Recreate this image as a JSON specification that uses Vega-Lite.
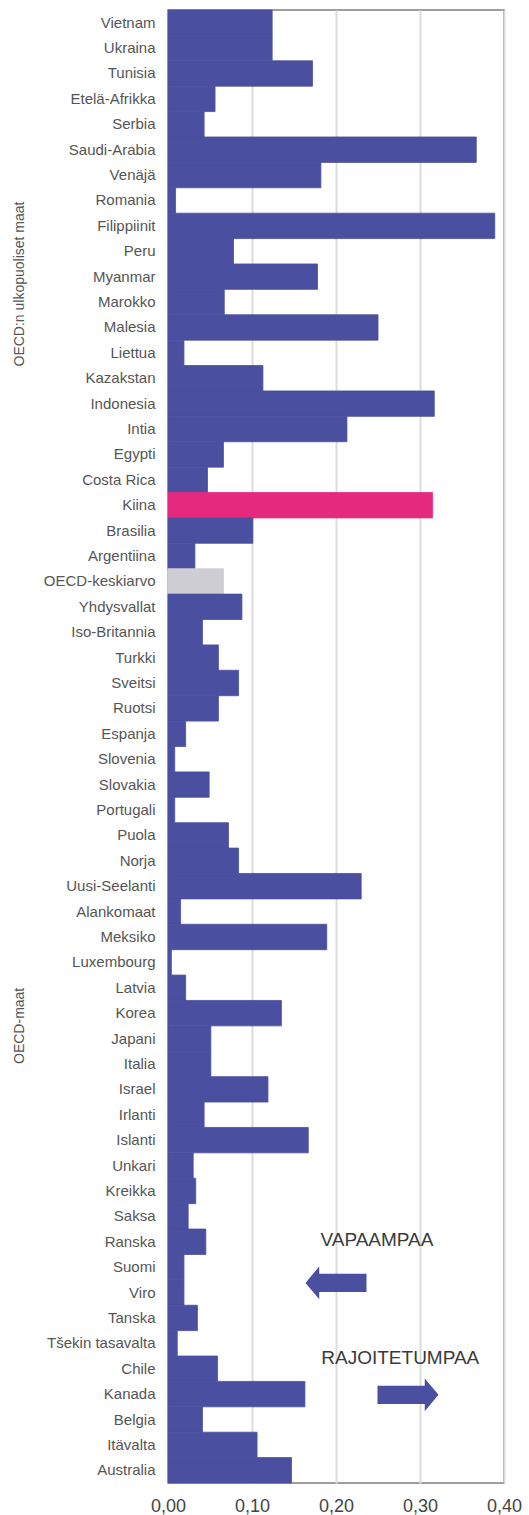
{
  "$schema": "https://vega.github.io/schema/vega-lite/v6.json",
  "width": 336,
  "height": 1473,
  "autosize": {"type": "none"},
  "padding": {"left": 168, "top": 10, "right": 25, "bottom": 32},
  "background": "white",
  "config": {"view": {"stroke": "#7f7f7f", "strokeWidth": 1.5}, "font": "Liberation Sans"},
  "datasets": {
    "maat": [
      {"maa": "Vietnam", "arvo": 0.124, "ryhma": "muu"},
      {"maa": "Ukraina", "arvo": 0.124, "ryhma": "muu"},
      {"maa": "Tunisia", "arvo": 0.172, "ryhma": "muu"},
      {"maa": "Etelä-Afrikka", "arvo": 0.056, "ryhma": "muu"},
      {"maa": "Serbia", "arvo": 0.043, "ryhma": "muu"},
      {"maa": "Saudi-Arabia", "arvo": 0.367, "ryhma": "muu"},
      {"maa": "Venäjä", "arvo": 0.182, "ryhma": "muu"},
      {"maa": "Romania", "arvo": 0.009, "ryhma": "muu"},
      {"maa": "Filippiinit", "arvo": 0.389, "ryhma": "muu"},
      {"maa": "Peru", "arvo": 0.078, "ryhma": "muu"},
      {"maa": "Myanmar", "arvo": 0.178, "ryhma": "muu"},
      {"maa": "Marokko", "arvo": 0.067, "ryhma": "muu"},
      {"maa": "Malesia", "arvo": 0.25, "ryhma": "muu"},
      {"maa": "Liettua", "arvo": 0.019, "ryhma": "muu"},
      {"maa": "Kazakstan", "arvo": 0.113, "ryhma": "muu"},
      {"maa": "Indonesia", "arvo": 0.317, "ryhma": "muu"},
      {"maa": "Intia", "arvo": 0.213, "ryhma": "muu"},
      {"maa": "Egypti", "arvo": 0.066, "ryhma": "muu"},
      {"maa": "Costa Rica", "arvo": 0.047, "ryhma": "muu"},
      {"maa": "Kiina", "arvo": 0.315, "ryhma": "Kiina"},
      {"maa": "Brasilia", "arvo": 0.101, "ryhma": "muu"},
      {"maa": "Argentiina", "arvo": 0.032, "ryhma": "muu"},
      {"maa": "OECD-keskiarvo", "arvo": 0.066, "ryhma": "OECD"},
      {"maa": "Yhdysvallat", "arvo": 0.088, "ryhma": "muu"},
      {"maa": "Iso-Britannia", "arvo": 0.041, "ryhma": "muu"},
      {"maa": "Turkki", "arvo": 0.06, "ryhma": "muu"},
      {"maa": "Sveitsi", "arvo": 0.084, "ryhma": "muu"},
      {"maa": "Ruotsi", "arvo": 0.06, "ryhma": "muu"},
      {"maa": "Espanja", "arvo": 0.021, "ryhma": "muu"},
      {"maa": "Slovenia", "arvo": 0.008, "ryhma": "muu"},
      {"maa": "Slovakia", "arvo": 0.049, "ryhma": "muu"},
      {"maa": "Portugali", "arvo": 0.008, "ryhma": "muu"},
      {"maa": "Puola", "arvo": 0.072, "ryhma": "muu"},
      {"maa": "Norja", "arvo": 0.084, "ryhma": "muu"},
      {"maa": "Uusi-Seelanti", "arvo": 0.23, "ryhma": "muu"},
      {"maa": "Alankomaat", "arvo": 0.015, "ryhma": "muu"},
      {"maa": "Meksiko", "arvo": 0.189, "ryhma": "muu"},
      {"maa": "Luxembourg", "arvo": 0.004, "ryhma": "muu"},
      {"maa": "Latvia", "arvo": 0.021, "ryhma": "muu"},
      {"maa": "Korea", "arvo": 0.135, "ryhma": "muu"},
      {"maa": "Japani", "arvo": 0.051, "ryhma": "muu"},
      {"maa": "Italia", "arvo": 0.051, "ryhma": "muu"},
      {"maa": "Israel", "arvo": 0.119, "ryhma": "muu"},
      {"maa": "Irlanti", "arvo": 0.043, "ryhma": "muu"},
      {"maa": "Islanti", "arvo": 0.167, "ryhma": "muu"},
      {"maa": "Unkari", "arvo": 0.03, "ryhma": "muu"},
      {"maa": "Kreikka", "arvo": 0.033, "ryhma": "muu"},
      {"maa": "Saksa", "arvo": 0.024, "ryhma": "muu"},
      {"maa": "Ranska", "arvo": 0.045, "ryhma": "muu"},
      {"maa": "Suomi", "arvo": 0.019, "ryhma": "muu"},
      {"maa": "Viro", "arvo": 0.019, "ryhma": "muu"},
      {"maa": "Tanska", "arvo": 0.035, "ryhma": "muu"},
      {"maa": "Tšekin tasavalta", "arvo": 0.011, "ryhma": "muu"},
      {"maa": "Chile", "arvo": 0.059, "ryhma": "muu"},
      {"maa": "Kanada", "arvo": 0.163, "ryhma": "muu"},
      {"maa": "Belgia", "arvo": 0.041, "ryhma": "muu"},
      {"maa": "Itävalta", "arvo": 0.106, "ryhma": "muu"},
      {"maa": "Australia", "arvo": 0.147, "ryhma": "muu"}
    ],
    "ryhmat": [
      {"teksti": "OECD:n ulkopuoliset maat", "arvo": -0.176, "rivi": 10.79},
      {"teksti": "OECD-maat", "arvo": -0.176, "rivi": 40.0}
    ],
    "huomiot": [
      {"teksti": "VAPAAMPAA", "arvo": 0.1815, "rivi": 48.43},
      {"teksti": "RAJOITETUMPAA", "arvo": 0.1825, "rivi": 53.08}
    ],
    "nuolet": [
      {"suunta": "vasen", "arvo": 0.2, "rivi": 50.12},
      {"suunta": "oikea", "arvo": 0.2857, "rivi": 54.53}
    ]
  },
  "layer": [
    {
      "data": {"name": "maat"},
      "mark": {"type": "bar", "strokeWidth": 0.8},
      "encoding": {
        "y": {
          "field": "maa", "type": "nominal", "sort": null,
          "scale": {"paddingInner": 0, "paddingOuter": 0},
          "axis": {"title": null, "ticks": false, "domain": false, "labelPadding": 13, "labelFontSize": 15, "labelColor": "#555555", "labelLimit": 200}
        },
        "x": {
          "field": "arvo", "type": "quantitative",
          "scale": {"domain": [0, 0.4], "nice": false},
          "axis": {"title": null, "values": [0, 0.1, 0.2, 0.3, 0.4], "labelExpr": "replace(format(datum.value, '.2f'), '.', ',')", "ticks": false, "domain": false, "labelPadding": 14, "labelFontSize": 18, "labelColor": "#444444", "labelFlush": false, "grid": true, "gridColor": "#dcdcdc", "gridWidth": 2, "zindex": 0}
        },
        "color": {
          "field": "ryhma", "type": "nominal",
          "scale": {"domain": ["muu", "Kiina", "OECD"], "range": ["#4A4F9F", "#E5297F", "#CFCDD4"]},
          "legend": null
        },
        "stroke": {
          "field": "ryhma", "type": "nominal",
          "scale": {"domain": ["muu", "Kiina", "OECD"], "range": ["#4A4F9F", "#E5297F", "#CFCDD4"]},
          "legend": null
        }
      }
    },
    {
      "layer": [
        {
          "data": {"name": "ryhmat"},
          "mark": {"type": "text", "angle": 270, "align": "center", "baseline": "middle", "fontSize": 14, "color": "#555555"},
          "encoding": {
            "x": {"field": "arvo", "type": "quantitative"},
            "y": {"field": "rivi", "type": "quantitative", "scale": {"domain": [0, 58], "reverse": true, "nice": false, "zero": false}, "axis": null},
            "text": {"field": "teksti"}
          }
        },
        {
          "data": {"name": "huomiot"},
          "mark": {"type": "text", "align": "left", "baseline": "middle", "fontSize": 19, "color": "#3a3a3a"},
          "encoding": {
            "x": {"field": "arvo", "type": "quantitative"},
            "y": {"field": "rivi", "type": "quantitative", "scale": {"domain": [0, 58], "reverse": true, "nice": false, "zero": false}, "axis": null},
            "text": {"field": "teksti"}
          }
        },
        {
          "data": {"name": "nuolet"},
          "mark": {"type": "point", "filled": true, "opacity": 1, "size": 3721, "color": "#4A4F9F", "strokeWidth": 0},
          "encoding": {
            "x": {"field": "arvo", "type": "quantitative"},
            "y": {"field": "rivi", "type": "quantitative", "scale": {"domain": [0, 58], "reverse": true, "nice": false, "zero": false}, "axis": null},
            "shape": {
              "field": "suunta", "type": "nominal",
              "scale": {"domain": ["vasen", "oikea"], "range": ["M-1,0L-0.55,-0.54L-0.55,-0.3L1,-0.3L1,0.3L-0.55,0.3L-0.55,0.54Z", "M1,0L0.55,-0.54L0.55,-0.3L-1,-0.3L-1,0.3L0.55,0.3L0.55,0.54Z"]},
              "legend": null
            }
          }
        }
      ]
    }
  ],
  "resolve": {"scale": {"y": "independent"}, "axis": {"y": "independent"}}
}
